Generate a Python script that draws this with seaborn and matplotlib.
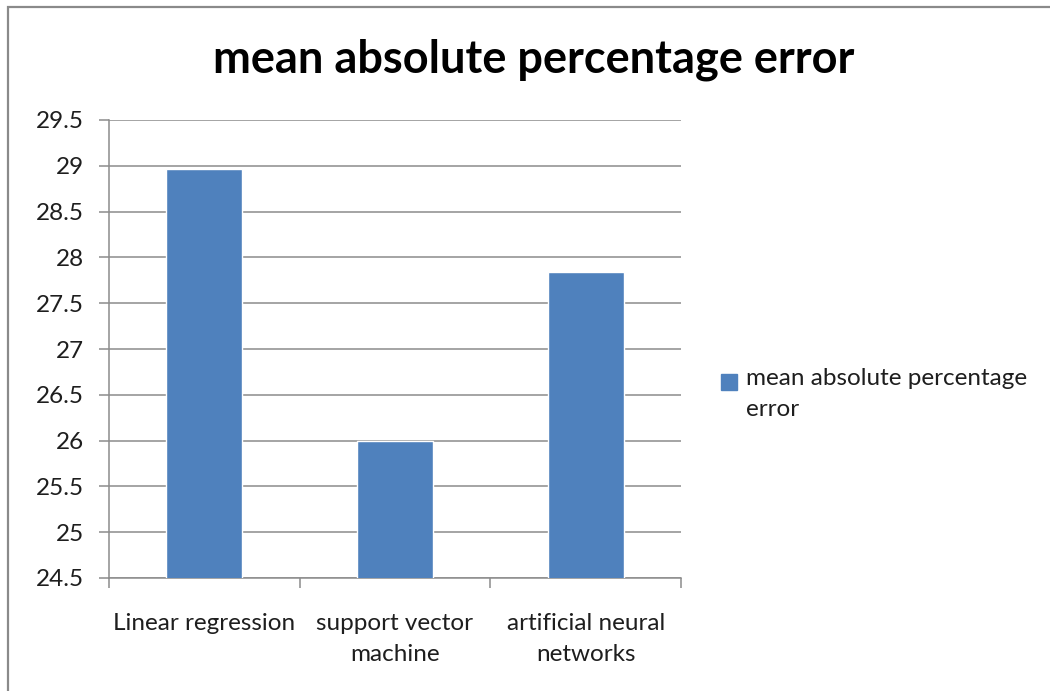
import matplotlib
matplotlib.use("Agg")
import matplotlib.pyplot as plt
import matplotlib.patches as mpatches
from matplotlib.legend_handler import HandlerPatch
import numpy as np
import pandas as pd
import seaborn as sns

# Model comparison: mean absolute percentage error
models = ["Linear regression", "support vector\nmachine", "artificial neural\nnetworks"]
mape = [28.96, 26.0, 27.84]
series_name = "mean absolute percentage error"
y_ticks = [24.5, 25, 25.5, 26, 26.5, 27, 27.5, 28, 28.5, 29, 29.5]

df = pd.DataFrame({"model": models, "value": mape, "series": series_name})

sns.set_theme(style="white")
plt.rcParams["font.family"] = ["Lato", "DejaVu Sans"]

bar_color = "#4F81BD"
grid_color = "#8C8C8C"
text_color = "#1E1E1E"

fig = plt.figure(figsize=(10.5, 6.91), dpi=100)
ax = fig.add_axes([109 / 1050, 1 - 578 / 691, (681 - 109) / 1050, (578 - 120) / 691])

sns.barplot(data=df, x="model", y="value", color=bar_color, width=0.4,
            saturation=1, ax=ax, zorder=3)

ax.set_ylim(24.5, 29.5)
ax.set_xlim(-0.5, 2.5)
ax.set_yticks(y_ticks)
ax.set_yticklabels([f"{t:g}" for t in y_ticks], fontsize=17.5, color=text_color)
ax.set_xticks(range(len(models)))
ax.set_xticklabels(models, fontsize=17.5, color=text_color, linespacing=1.6)
ax.set_xlabel("")
ax.set_ylabel("")

# horizontal gridlines
for t in y_ticks:
    ax.axhline(t, color=grid_color, lw=1.1, zorder=1)

for s in ["top", "right"]:
    ax.spines[s].set_visible(False)
for s in ["left", "bottom"]:
    ax.spines[s].set_color(grid_color)
    ax.spines[s].set_linewidth(1.1)

# outward tick marks: y at each value, x at category boundaries
ax.tick_params(axis="y", which="major", length=7, width=1.1, color=grid_color,
               left=True, pad=11)
ax.tick_params(axis="x", which="major", length=0, pad=25)
ax.set_xticks([-0.5, 0.5, 1.5, 2.5], minor=True)
ax.tick_params(axis="x", which="minor", length=7, width=1.1, color=grid_color,
               bottom=True)

fig.text(534 / 1050, 1 - 60 / 691, series_name, ha="center", va="center",
         fontsize=32.5, fontweight="bold", color="black")


def top_square(legend, orig_handle, xdescent, ydescent, width, height, fontsize):
    # square key aligned with the first line of a two-line label
    side = width
    return mpatches.Rectangle((-xdescent, -ydescent + height - side * 1.05),
                              side, side)


handle = mpatches.Patch(color=bar_color, label="mean absolute percentage\nerror")
leg = fig.legend(handles=[handle], loc="center left",
                 bbox_to_anchor=(699 / 1050, 1 - 394 / 691), frameon=False,
                 fontsize=17.5, handlelength=0.65, handleheight=2.4,
                 handletextpad=0.4, labelcolor=text_color,
                 handler_map={mpatches.Patch: HandlerPatch(patch_func=top_square)})
for txt in leg.get_texts():
    txt.set_linespacing(1.6)

# outer chart frame
frame = mpatches.Rectangle((8 / 1050, -0.05), 1.2, 1 - 7 / 691 + 0.05,
                           transform=fig.transFigure, fill=False,
                           edgecolor="#8A8A8A", lw=1.6)
fig.patches.append(frame)

fig.savefig("out.png", dpi=100, facecolor="white")
